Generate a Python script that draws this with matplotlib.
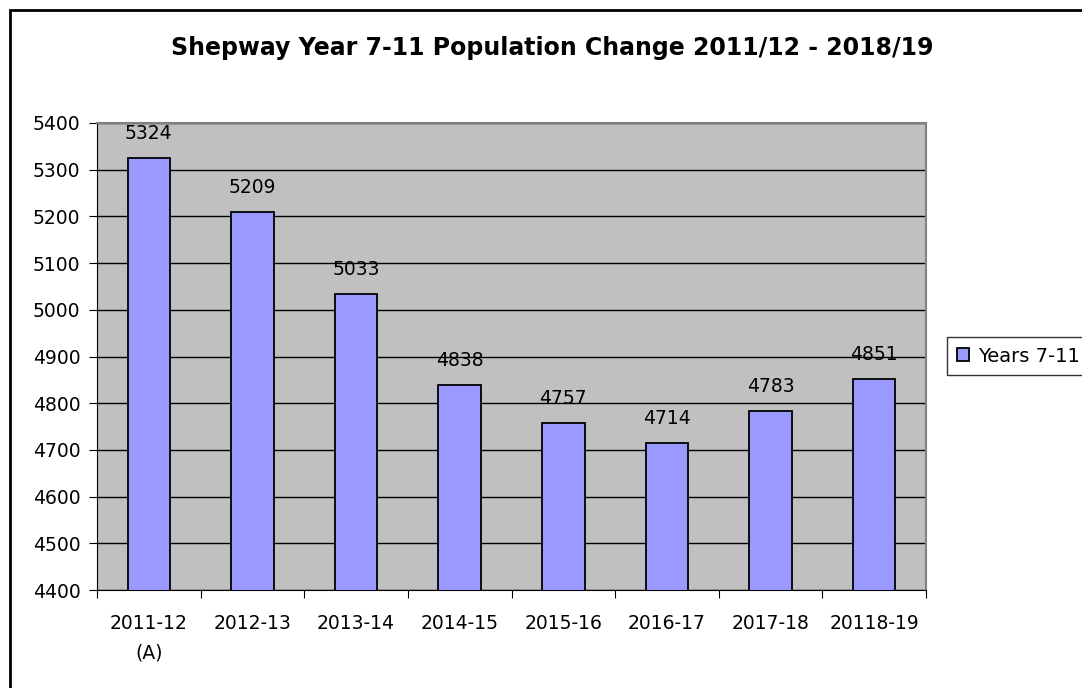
import matplotlib.pyplot as plt
from matplotlib.patches import Rectangle

# Data
years = ['2011-12\n(A)', '2012-13', '2013-14', '2014-15', '2015-16',
         '2016-17', '2017-18', '20118-19']
pupils = [5324, 5209, 5033, 4838, 4757, 4714, 4783, 4851]

plt.rcParams['font.family'] = 'DejaVu Sans'

fig = plt.figure(figsize=(10.82, 6.88), dpi=100)
ax = fig.add_axes([97/1082, 1 - 590/688, (926 - 97)/1082, (590 - 123)/688])
ax.set_facecolor('#C0C0C0')

x = list(range(len(years)))
bars = ax.bar(x, pupils, width=0.41, color='#9999FF', edgecolor='black',
              linewidth=1.3, label='Years 7-11', zorder=3)

for xi, v in zip(x, pupils):
    ax.annotate(str(v), (xi, v), xytext=(0, 11), textcoords='offset points',
                ha='center', va='bottom', fontsize=13.5)

ax.set_ylim(4400, 5400)
ax.set_xlim(-0.5, len(years) - 0.5)
ax.set_yticks(range(4400, 5401, 100))
ax.yaxis.grid(True, color='black', linewidth=1, zorder=1)
ax.set_axisbelow(True)

# ticks between categories, labels centred under the bars
ax.set_xticks([i - 0.5 for i in range(len(years) + 1)])
ax.set_xticklabels([])
ax.set_xticks(x, minor=True)
ax.set_xticklabels(years, minor=True, linespacing=1.75)
ax.tick_params(axis='x', which='minor', length=0, pad=17, labelsize=13.5)
ax.tick_params(axis='x', which='major', length=6, direction='out')
ax.tick_params(axis='y', length=6, direction='out', pad=6, labelsize=13.5)

for side in ['top', 'right']:
    ax.spines[side].set_color('#808080')
    ax.spines[side].set_linewidth(1.5)

fig.text(552/1082, 1 - 48/688, 'Shepway Year 7-11 Population Change 2011/12 - 2018/19',
         ha='center', va='center', fontsize=17, fontweight='bold')

leg = ax.legend(loc='upper left', bbox_to_anchor=(947/1082, 1 - 337/688),
                bbox_transform=fig.transFigure, fontsize=14, frameon=True,
                fancybox=False, edgecolor='black', handlelength=0.65,
                handleheight=0.65, handletextpad=0.45, borderpad=0.5,
                borderaxespad=0)
leg.get_frame().set_linewidth(1)

# outer chart border
fig.patches.append(Rectangle((10/1082, -0.1), 1.2, 1.1 - 10/688,
                             transform=fig.transFigure, fill=False,
                             edgecolor='black', linewidth=2))

fig.savefig('out.png', dpi=100)
